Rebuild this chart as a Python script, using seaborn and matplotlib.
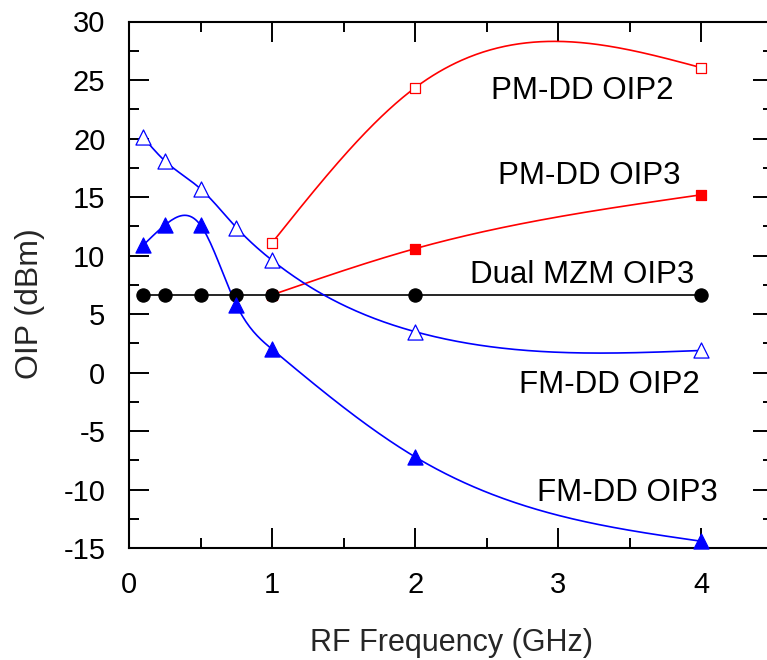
import numpy as np
import matplotlib
matplotlib.use("Agg")
import matplotlib.pyplot as plt
from matplotlib.ticker import MultipleLocator
import seaborn as sns

# data
freq_low = [0.1, 0.25, 0.5, 0.75, 1, 2, 4]
freq_pm = [1, 2, 4]

fm_oip2 = [20.1, 18.1, 15.7, 12.4, 9.6, 3.5, 1.9]
fm_oip3 = [10.9, 12.6, 12.6, 5.8, 2.0, -7.2, -14.4]
mzm_oip3 = [6.65, 6.65, 6.65, 6.65, 6.65, 6.65, 6.65]
pm_oip2 = [11.1, 24.35, 26.05]
pm_oip3 = [6.65, 10.6, 15.2]

labels = ["PM-DD OIP2", "PM-DD OIP3", "Dual MZM OIP3", "FM-DD OIP2", "FM-DD OIP3"]
label_pos = [(3.17, 23.35), (3.215, 16.12), (3.166, 7.69), (3.354, -1.71), (3.48, -10.93)]


# natural cubic spline, the smooth line drawn through the markers
def spline_curve(x, y, n=300):
    x = np.asarray(x, float)
    y = np.asarray(y, float)
    k = len(x)
    h = np.diff(x)
    A = np.zeros((k, k))
    b = np.zeros(k)
    A[0, 0] = 1
    A[-1, -1] = 1
    for i in range(1, k - 1):
        A[i, i - 1] = h[i - 1]
        A[i, i] = 2 * (h[i - 1] + h[i])
        A[i, i + 1] = h[i]
        b[i] = 6 * ((y[i + 1] - y[i]) / h[i] - (y[i] - y[i - 1]) / h[i - 1])
    m = np.linalg.solve(A, b)
    xs = np.linspace(x[0], x[-1], n)
    idx = np.clip(np.searchsorted(x, xs) - 1, 0, k - 2)
    x0, x1 = x[idx], x[idx + 1]
    hh = x1 - x0
    ys = (m[idx] * (x1 - xs) ** 3 / (6 * hh) + m[idx + 1] * (xs - x0) ** 3 / (6 * hh)
          + (y[idx] / hh - m[idx] * hh / 6) * (x1 - xs)
          + (y[idx + 1] / hh - m[idx + 1] * hh / 6) * (xs - x0))
    return xs, ys


sns.set_style("ticks")
plt.rcParams['font.family'] = ['Liberation Sans', 'DejaVu Sans']
plt.rcParams['axes.unicode_minus'] = False

fig = plt.figure(figsize=(7.67, 6.6), dpi=100)
ax = fig.add_axes([129 / 767, (660 - 548.3) / 660, 644 / 767, 526.8 / 660])

series = [
    (freq_pm, pm_oip2, "red", "s", "white", 62),
    (freq_pm, pm_oip3, "red", "s", "red", 62),
    (freq_low, mzm_oip3, "black", "o", "black", 90),
    (freq_low, fm_oip2, "blue", "^", "white", 118),
    (freq_low, fm_oip3, "blue", "^", "blue", 118),
]

for xs, ys, col, mk, face, size in series:
    cx, cy = spline_curve(xs, ys)
    sns.lineplot(x=cx, y=cy, color=col, lw=1.2, sort=False, estimator=None, ax=ax, zorder=2)
for xs, ys, col, mk, face, size in series:
    sns.scatterplot(x=xs, y=ys, marker=mk, s=size, facecolor=face, edgecolor=col,
                    linewidth=0.9, ax=ax, zorder=3, clip_on=False)

for txt, (tx, ty) in zip(labels, label_pos):
    ax.text(tx, ty, txt, fontsize=22.5, ha="center", va="baseline", color="black")

ax.set_xlim(0, 4.5)
ax.set_ylim(-15, 30)
ax.xaxis.set_major_locator(MultipleLocator(1))
ax.xaxis.set_minor_locator(MultipleLocator(0.5))
ax.yaxis.set_major_locator(MultipleLocator(5))
ax.yaxis.set_minor_locator(MultipleLocator(2.5))
ax.tick_params(which="both", direction="in", top=True, right=True, width=1.4,
               labelsize=21, colors="black")
ax.tick_params(axis="y", pad=17)
ax.tick_params(axis="x", pad=16)
ax.tick_params(which="major", length=14.4)
ax.tick_params(which="minor", length=7.2)
for sp in ax.spines.values():
    sp.set_linewidth(1.5)
    sp.set_color("black")

ax.set_xlabel("RF Frequency (GHz)", fontsize=22)
ax.set_ylabel("OIP (dBm)", fontsize=23)
ax.xaxis.set_label_coords(0.5, -0.18)
ax.xaxis.label.set_va("center")
ax.yaxis.set_label_coords(-0.1537, 0.4637)
ax.yaxis.label.set_va("center")

fig.savefig("out.png", dpi=100)
